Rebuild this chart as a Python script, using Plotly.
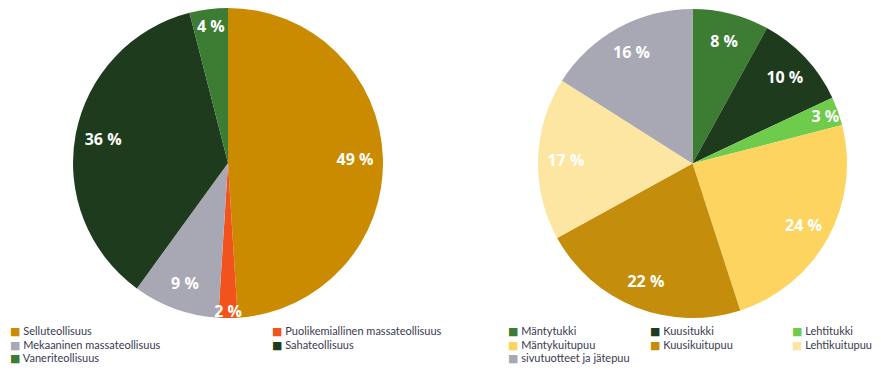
import plotly.graph_objects as go

# Left pie: distribution by industry
ind_labels = ["Selluteollisuus", "Puolikemiallinen massateollisuus",
              "Mekaaninen massateollisuus", "Sahateollisuus", "Vaneriteollisuus"]
ind_values = [49, 2, 9, 36, 4]
ind_colors = ["#CB8B00", "#F2531D", "#A8A7B4", "#1F3B1E", "#3D7C33"]

# Right pie: distribution by wood assortment
wood_labels = ["Mäntytukki", "Kuusitukki", "Lehtitukki", "Mäntykuitupuu",
               "Kuusikuitupuu", "Lehtikuitupuu", "sivutuotteet ja jätepuu"]
wood_values = [8, 10, 3, 24, 22, 17, 16]
wood_colors = ["#3D7C33", "#1F3B1E", "#6FCB4B", "#FDD460",
               "#C48D0B", "#FCE6A2", "#A8A7B4"]

W, H = 881, 373
LABEL_FONT = dict(family="Open Sans", size=16, color="white")
LEFT_DOMAIN = dict(x=[73 / W, 383 / W], y=[1 - 318 / H, 1 - 8 / H])
RIGHT_DOMAIN = dict(x=[537 / W, 848 / W], y=[1 - 318 / H, 1 - 9 / H])

fig = go.Figure()


def add_pie(labels, values, colors, domain):
    # solid slices
    fig.add_trace(go.Pie(
        labels=labels, values=values, sort=False, direction="clockwise",
        rotation=0, marker=dict(colors=colors, line=dict(width=0)),
        textinfo="none", showlegend=False, hoverinfo="label+percent",
        domain=domain,
    ))
    # transparent ring on top that carries the percentage labels near the rim
    fig.add_trace(go.Pie(
        labels=labels, values=values, sort=False, direction="clockwise",
        rotation=0, hole=0.64,
        marker=dict(colors=["rgba(0,0,0,0)"] * len(values), line=dict(width=0)),
        texttemplate="<b>%{value} %</b>", textposition="inside",
        insidetextorientation="horizontal", textfont=LABEL_FONT,
        showlegend=False, hoverinfo="skip", domain=domain,
    ))


add_pie(ind_labels, ind_values, ind_colors, LEFT_DOMAIN)
add_pie(wood_labels, wood_values, wood_colors, RIGHT_DOMAIN)


# Legend blocks laid out as grids of coloured squares and names
def legend_block(labels, colors, x0, col_step, ncols, y0, row_step):
    anns = []
    for i, (lab, col) in enumerate(zip(labels, colors)):
        r, c = divmod(i, ncols)
        anns.append(dict(
            x=(x0 + c * col_step) / W, y=1 - (y0 + r * row_step) / H,
            xref="paper", yref="paper", xanchor="left", yanchor="middle",
            showarrow=False,
            text=f"<span style='color:{col}; font-family:DejaVu Sans'>■</span> {lab}",
            font=dict(family="Lato", size=11, color="#3A3A50"),
        ))
    return anns


annotations = legend_block(ind_labels, ind_colors, 8, 262, 2, 331, 13.5)
annotations += legend_block(wood_labels, wood_colors, 506, 142, 3, 331, 13.5)

fig.update_layout(
    width=W, height=H, margin=dict(l=0, r=0, t=0, b=0),
    paper_bgcolor="white", plot_bgcolor="white",
    uniformtext=dict(minsize=16, mode="show"),
    annotations=annotations,
)

fig.write_html("out.html")
